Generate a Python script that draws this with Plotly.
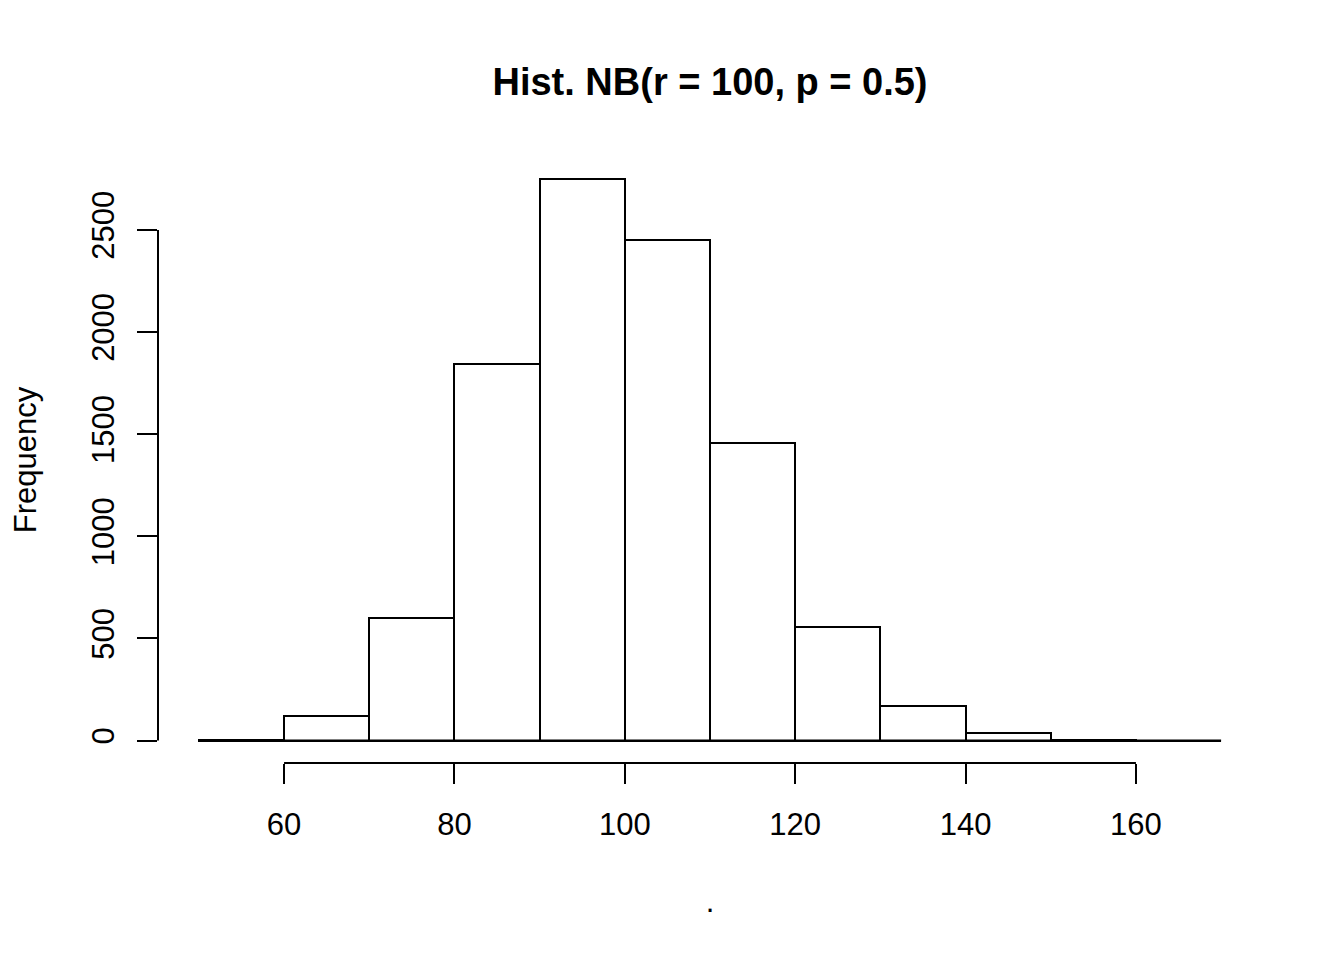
import plotly.graph_objects as go

# Histogram data: bin edges (left) and counts
bin_left = [50, 60, 70, 80, 90, 100, 110, 120, 130, 140, 150, 160]
bin_width = 10
counts = [4, 118, 598, 1845, 2747, 2452, 1456, 554, 171, 37, 5, 0]

x_ticks = [60, 80, 100, 120, 140, 160]
y_ticks = [0, 500, 1000, 1500, 2000, 2500]

title_text = "Hist. NB(r = 100, p = 0.5)"
x_title = "."
y_title = "Frequency"

centers = [b + bin_width / 2 for b in bin_left]
x_lo, x_hi = bin_left[0], bin_left[-1] + bin_width
xpad = (x_hi - x_lo) * 0.04
ymax = max(counts)
ypad = ymax * 0.04

FONT = "Liberation Sans, Arial, sans-serif"

fig = go.Figure()
fig.add_trace(go.Scatter(
    x=[x_lo, x_hi], y=[0, 0], mode="lines",
    line=dict(color="black", width=2), hoverinfo="skip", showlegend=False))
fig.add_trace(go.Bar(
    x=centers, y=counts, width=bin_width,
    marker=dict(color="white", line=dict(color="black", width=2)),
    showlegend=False))

fig.add_shape(type="line", xref="x", yref="paper",
              x0=x_ticks[0], x1=x_ticks[-1], y0=0, y1=0,
              line=dict(color="black", width=2))
fig.add_shape(type="line", xref="paper", yref="y",
              x0=0, x1=0, y0=y_ticks[0], y1=y_ticks[-1],
              line=dict(color="black", width=2))

fig.update_layout(
    width=1344, height=960,
    margin=dict(l=150, r=90, t=149, b=205, autoexpand=False),
    paper_bgcolor="white", plot_bgcolor="white",
    font=dict(family=FONT, color="black", size=31),
    bargap=0,
    title=dict(text="<b>" + title_text + "</b>", x=702 / 1344, xanchor="center",
               y=1 - 74 / 960, yanchor="middle",
               font=dict(size=38, family=FONT, color="black")),
    xaxis=dict(range=[x_lo - xpad, x_hi + xpad], showgrid=False, zeroline=False,
               showline=False, tickmode="array", tickvals=x_ticks,
               ticks="outside", ticklen=20, tickwidth=2, tickcolor="black",
               ticklabelstandoff=14, automargin=False,
               tickfont=dict(size=31, family=FONT),
               title=dict(text=x_title, standoff=49, font=dict(size=31, family=FONT))),
    yaxis=dict(range=[-ypad, ymax + ypad], showgrid=False, zeroline=False,
               showline=False, tickmode="array", tickvals=y_ticks,
               tickangle=-90,
               ticks="outside", ticklen=20, tickwidth=2, tickcolor="black",
               ticklabelstandoff=11, automargin=False,
               tickfont=dict(size=31, family=FONT),
               title=dict(text=y_title, standoff=46, font=dict(size=31, family=FONT))),
)

fig.write_html("out.html")
